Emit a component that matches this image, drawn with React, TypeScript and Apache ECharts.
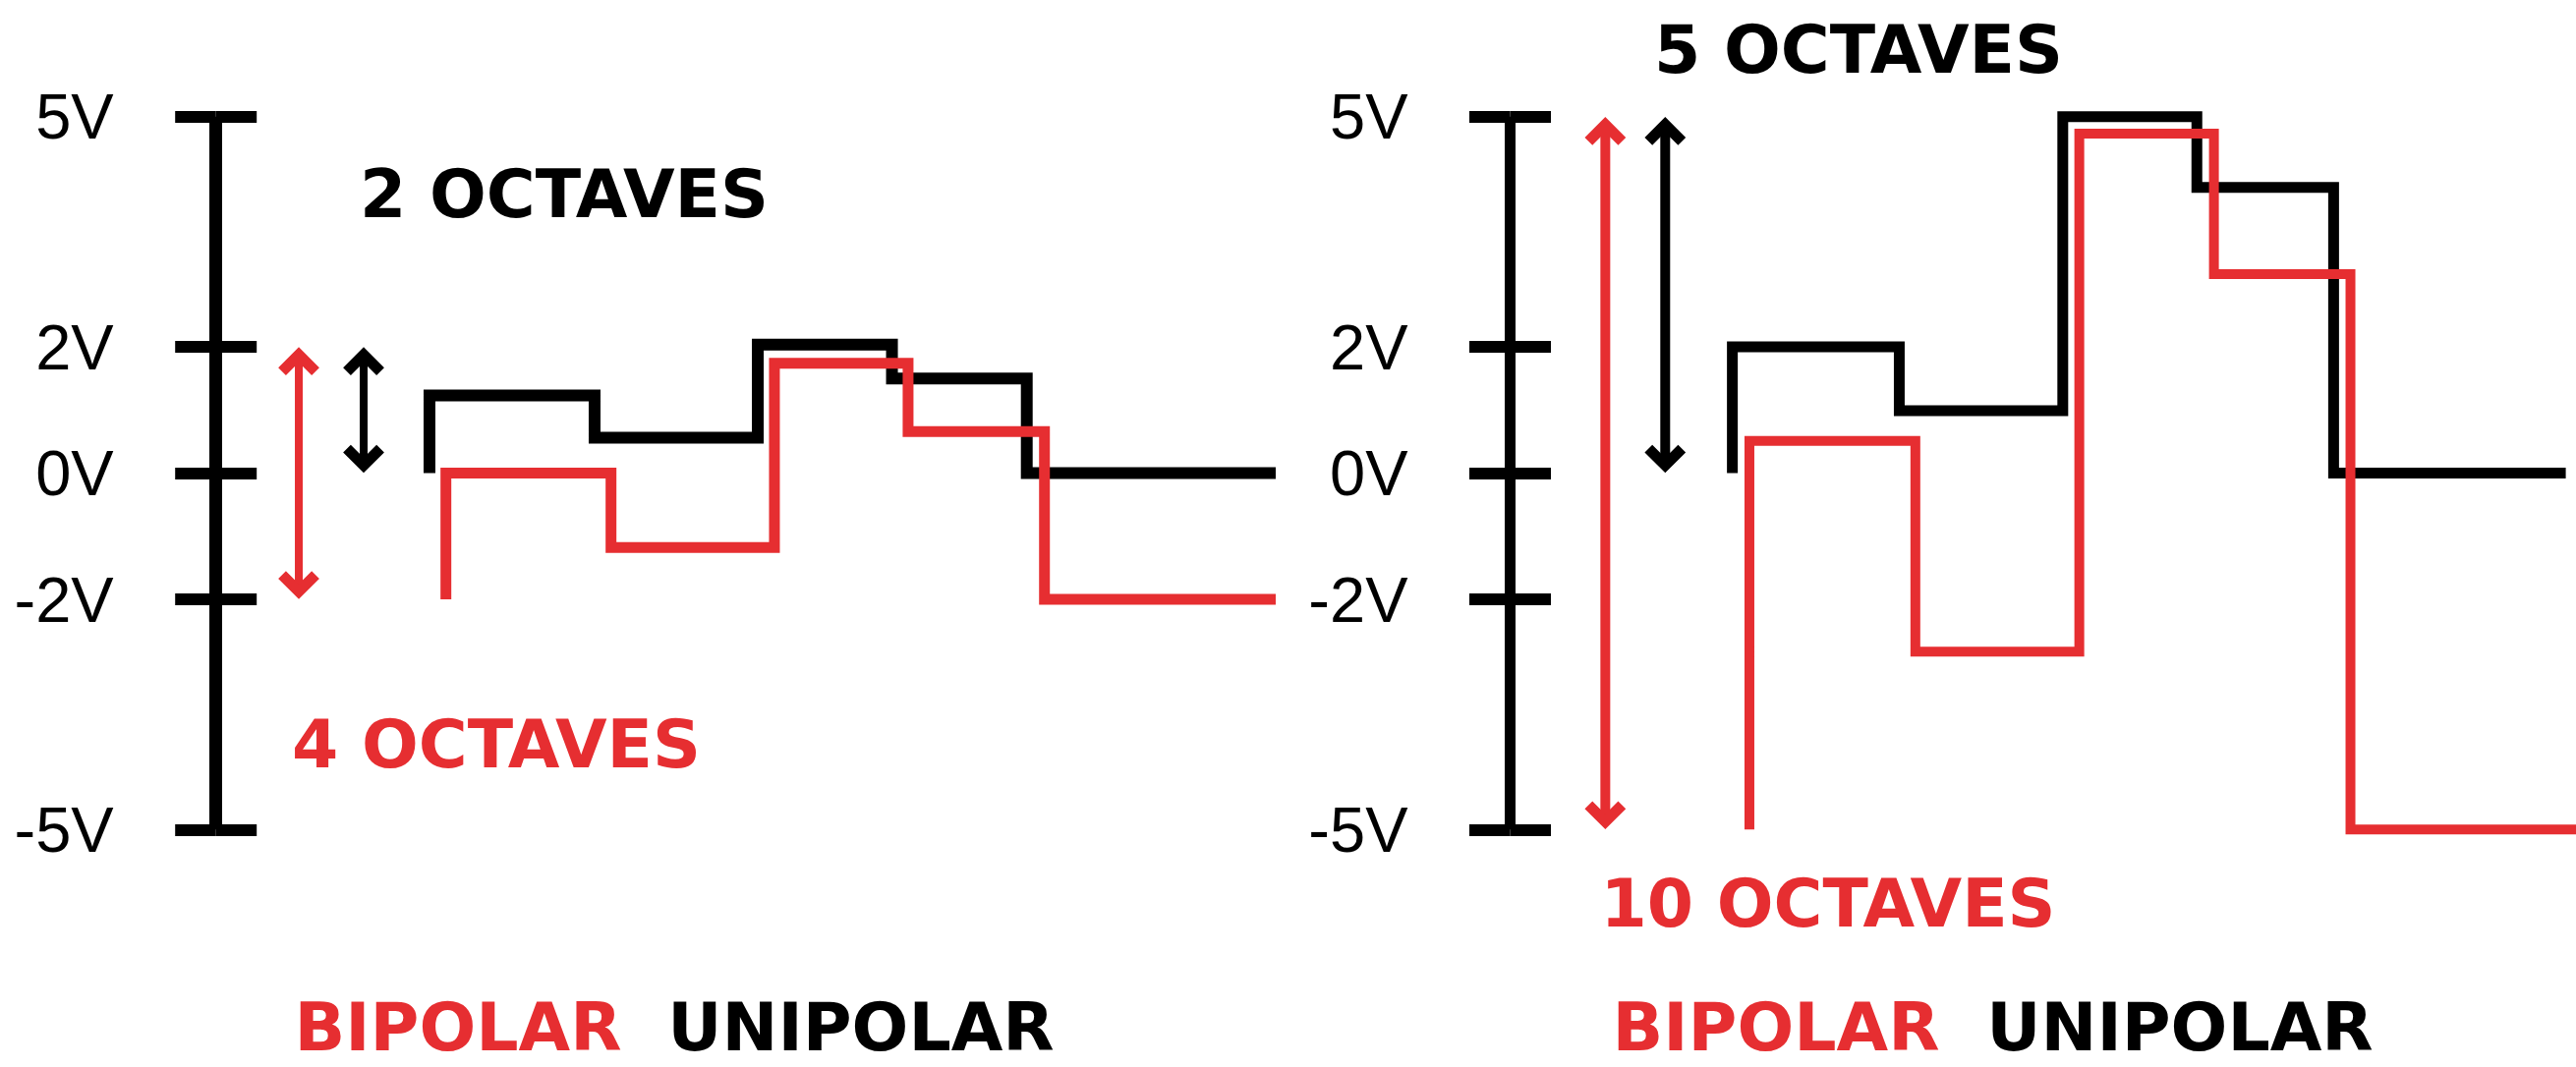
import React, { useEffect, useRef } from 'react';
import * as echarts from 'echarts';

const RED = '#E62E31';
const BLACK = '#000000';

// Axis ticks (volts) and their labels
const TICK_VOLTS = [-5, -2, 0, 2, 5];
const TICK_LABELS = ['-5V', '-2V', '0V', '2V', '5V'];

// Left panel: unipolar (2 octaves) / bipolar (4 octaves)
const LEFT_UNI_TIMES = [20.15, 35.73, 51.13, 63.79, 76.51, 100];
const LEFT_UNI_START = 0;
const LEFT_UNI_LEVELS = [1.23, 0.56, 2.03, 1.5, 0];
const LEFT_BI_TIMES = [21.7, 37.28, 52.7, 65.31, 78.18, 100];
const LEFT_BI_START = -2;
const LEFT_BI_LEVELS = [0, -1.18, 1.74, 0.66, -2];

// Right panel: unipolar (5 octaves) / bipolar (10 octaves)
const RIGHT_UNI_TIMES = [20.85, 36.51, 51.85, 64.43, 77.26, 99.04];
const RIGHT_UNI_START = 0;
const RIGHT_UNI_LEVELS = [2, 0.99, 5, 4.08, 0];
const RIGHT_BI_TIMES = [22.45, 38.02, 53.4, 66.03, 78.84, 100];
const RIGHT_BI_START = -5;
const RIGHT_BI_LEVELS = [0.51, -2.68, 4.78, 2.95, -5];

// Range arrows: [x, fromVolt, toVolt]
const LEFT_ARROWS = [
  [7.82, -2, 2],
  [13.94, 0, 2],
];
const RIGHT_ARROWS = [
  [8.93, -5, 5],
  [14.55, 0, 5],
];
const ARROW_COLORS = [RED, BLACK];

// The drawn voltage scale is piecewise linear: the |v| <= 2 band is compressed.
const BREAK_V = 2;
const BREAK_POS = 1.771;
const FULL_V = 5;
function toAxis(v: number): number {
  const a = Math.abs(v);
  const s = v < 0 ? -1 : 1;
  if (a <= BREAK_V) return (v * BREAK_POS) / BREAK_V;
  return s * (BREAK_POS + ((a - BREAK_V) * (FULL_V - BREAK_POS)) / (FULL_V - BREAK_V));
}
const TICK_POS = TICK_VOLTS.map(toAxis);
function labelFor(u: number): string {
  let best = 0;
  let bd = Infinity;
  TICK_POS.forEach((p, i) => {
    const d = Math.abs(p - u);
    if (d < bd) {
      bd = d;
      best = i;
    }
  });
  return bd < 0.01 ? TICK_LABELS[best] : '';
}

function stepData(times: number[], start: number, levels: number[]) {
  const d: number[][] = [[times[0], toAxis(start)]];
  for (let i = 0; i < levels.length; i++) d.push([times[i], toAxis(levels[i])]);
  d.push([times[times.length - 1], toAxis(levels[levels.length - 1])]);
  return d;
}

function yAxes(gridIndex: number, lineWidth: number) {
  return [
    {
      type: 'value',
      gridIndex,
      min: -5,
      max: 5,
      position: 'left',
      axisLine: { show: true, onZero: false, lineStyle: { color: BLACK, width: lineWidth, cap: 'butt' } },
      axisTick: {
        show: true,
        inside: false,
        length: 41.5,
        customValues: TICK_POS,
        lineStyle: { color: BLACK, width: 12 },
      },
      axisLabel: {
        show: true,
        margin: 104,
        customValues: TICK_POS,
        formatter: (v: number) => labelFor(v),
        color: BLACK,
        fontSize: 65,
        fontFamily: 'Liberation Sans',
        fontWeight: 'normal',
      },
      splitLine: { show: false },
    },
    {
      type: 'value',
      gridIndex,
      min: -5,
      max: 5,
      position: 'left',
      axisLine: { show: false },
      axisTick: {
        show: true,
        inside: true,
        length: 41.5,
        customValues: TICK_POS,
        lineStyle: { color: BLACK, width: 12 },
      },
      axisLabel: { show: false },
      splitLine: { show: false },
    },
  ];
}

function stepSeries(xi: number, yi: number, data: number[][], color: string, width: number, z: number) {
  return {
    type: 'line',
    xAxisIndex: xi,
    yAxisIndex: yi,
    data,
    step: 'end',
    symbol: 'none',
    showSymbol: false,
    clip: false,
    silent: true,
    z,
    lineStyle: { color, width, cap: 'butt', join: 'miter' },
  };
}

function arrowSeries(xi: number, yi: number, arrows: number[][], shaftWidth: number) {
  return {
    type: 'custom',
    xAxisIndex: xi,
    yAxisIndex: yi,
    silent: true,
    clip: false,
    z: 5,
    data: arrows.map(([x, a, b]) => [x, toAxis(a), toAxis(b)]),
    encode: { x: 0, y: [1, 2] },
    renderItem: (params: any, api: any) => {
      const p1 = api.coord([api.value(0), api.value(1)]);
      const p2 = api.coord([api.value(0), api.value(2)]);
      const x = p1[0];
      const top = Math.min(p1[1], p2[1]);
      const bot = Math.max(p1[1], p2[1]);
      const color = ARROW_COLORS[params.dataIndex % ARROW_COLORS.length];
      const headStyle = { stroke: color, lineWidth: 11, lineJoin: 'miter', lineCap: 'butt', fill: 'none' };
      return {
        type: 'group',
        children: [
          {
            type: 'line',
            shape: { x1: x, y1: top + 8, x2: x, y2: bot - 8 },
            style: { stroke: color, lineWidth: shaftWidth, lineCap: 'butt' },
          },
          {
            type: 'polyline',
            shape: { points: [[x - 17, top + 25], [x, top + 8], [x + 17, top + 25]] },
            style: headStyle,
          },
          {
            type: 'polyline',
            shape: { points: [[x - 17, bot - 25], [x, bot - 8], [x + 17, bot - 25]] },
            style: headStyle,
          },
        ],
      };
    },
  };
}

const BOLD = 'bold 68px "DejaVu Sans"';
function label(text: string, x: number, y: number, color: string) {
  return {
    type: 'text',
    x,
    y,
    silent: true,
    z: 10,
    style: {
      text,
      fill: color,
      font: BOLD,
      lineHeight: 50,
      align: 'center',
      verticalAlign: 'middle',
      textAlign: 'center',
      textVerticalAlign: 'middle',
    },
  };
}

export default function App() {
  const ref = useRef<HTMLDivElement>(null);
  useEffect(() => {
    if (!ref.current) return;
    const chart = echarts.init(ref.current, undefined, { renderer: 'svg' });
    const option: any = {
      animation: false,
      backgroundColor: '#ffffff',
      grid: [
        { left: 219.7, top: 118.8, width: 1078.3, height: 725.5 },
        { left: 1536.5, top: 118.8, width: 1084.5, height: 725.5 },
      ],
      xAxis: [
        { type: 'value', gridIndex: 0, min: 0, max: 100, show: false },
        { type: 'value', gridIndex: 1, min: 0, max: 100, show: false },
      ],
      yAxis: [...yAxes(0, 13), ...yAxes(1, 11)],
      series: [
        stepSeries(0, 0, stepData(LEFT_UNI_TIMES, LEFT_UNI_START, LEFT_UNI_LEVELS), BLACK, 12, 2),
        stepSeries(0, 0, stepData(LEFT_BI_TIMES, LEFT_BI_START, LEFT_BI_LEVELS), RED, 11, 3),
        stepSeries(1, 2, stepData(RIGHT_UNI_TIMES, RIGHT_UNI_START, RIGHT_UNI_LEVELS), BLACK, 11, 2),
        stepSeries(1, 2, stepData(RIGHT_BI_TIMES, RIGHT_BI_START, RIGHT_BI_LEVELS), RED, 10, 3),
        arrowSeries(0, 0, LEFT_ARROWS, 8),
        arrowSeries(1, 2, RIGHT_ARROWS, 10),
      ],
      graphic: [
        label('2 OCTAVES', 574, 197, BLACK),
        label('4 OCTAVES', 505, 757, RED),
        label('5 OCTAVES', 1891, 50, BLACK),
        label('10 OCTAVES', 1860, 919, RED),
        label('BIPOLAR', 466, 1045, RED),
        label('UNIPOLAR', 876, 1045, BLACK),
        label('BIPOLAR', 1807, 1045, RED),
        label('UNIPOLAR', 2218, 1045, BLACK),
      ],
    };
    chart.setOption(option);
    return () => chart.dispose();
  }, []);
  return (
    <div
      ref={ref}
      style={{ position: 'fixed', left: 0, top: 0, width: 2621, height: 1086, background: '#ffffff' }}
    />
  );
}
